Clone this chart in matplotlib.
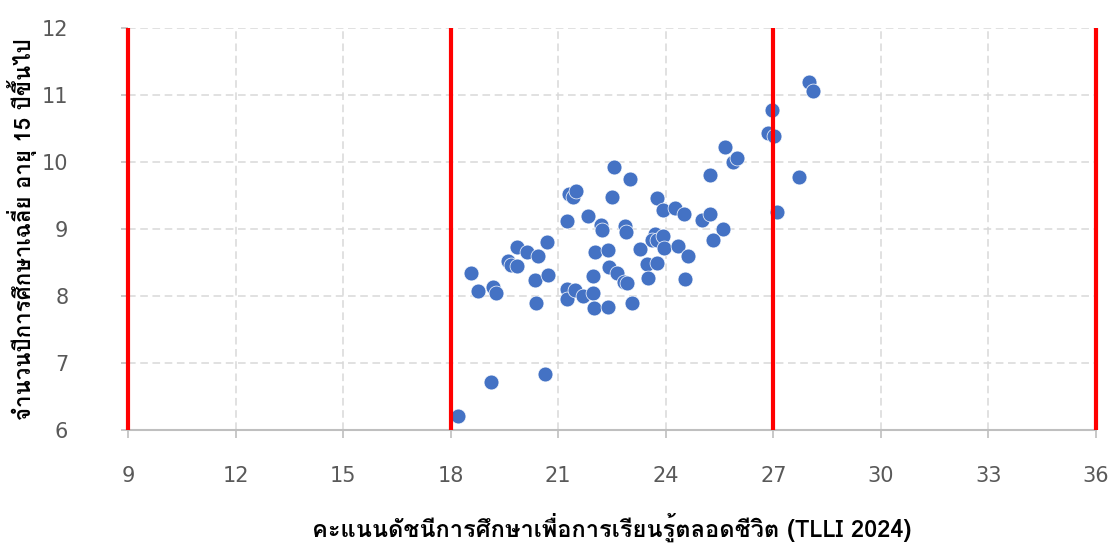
import matplotlib
matplotlib.use("Agg")
import matplotlib.pyplot as plt
from matplotlib import font_manager
from matplotlib.ft2font import FT2Font

# TLLI 2024 score vs mean years of schooling (age 15+)
tlli = [18.21, 19.12, 20.64, 18.57, 18.75, 19.19, 19.26, 19.61, 19.68, 19.84,
        19.84, 20.14, 20.44, 20.70, 20.34, 20.72, 20.38, 21.24, 21.30, 21.40,
        21.49, 21.24, 21.24, 21.46, 21.70, 21.98, 21.99, 22.39, 21.98, 21.82,
        22.18, 22.21, 22.03, 22.40, 22.56, 23.00, 22.49, 22.86, 22.88, 22.42,
        22.63, 22.84, 22.91, 23.07, 23.27, 23.47, 23.76, 23.51, 23.70, 23.61,
        23.76, 23.93, 23.95, 23.75, 23.92, 24.26, 24.52, 24.35, 24.63, 24.54,
        25.01, 25.23, 25.60, 25.33, 25.23, 25.65, 25.87, 26.00, 26.86, 27.03,
        26.95, 28.00, 28.10, 27.72, 27.09]
years = [6.21, 6.72, 6.84, 8.35, 8.07, 8.14, 8.04, 8.52, 8.46, 8.45,
         8.73, 8.65, 8.59, 8.80, 8.24, 8.31, 7.89, 9.12, 9.52, 9.48,
         9.57, 8.10, 7.95, 8.09, 8.00, 8.05, 7.82, 7.83, 8.30, 9.19,
         9.06, 8.99, 8.65, 8.69, 9.92, 9.75, 9.48, 9.04, 8.96, 8.44,
         8.34, 8.21, 8.19, 7.89, 8.70, 8.48, 8.50, 8.27, 8.93, 8.83,
         8.84, 8.89, 8.72, 9.46, 9.29, 9.32, 9.22, 8.74, 8.60, 8.26,
         9.13, 9.23, 9.00, 8.84, 9.81, 10.22, 10.00, 10.06, 10.44, 10.39,
         10.78, 11.19, 11.06, 9.77, 9.25]

x_ticks = [9, 12, 15, 18, 21, 24, 27, 30, 33, 36]
y_ticks = [6, 7, 8, 9, 10, 11, 12]
red_lines = [9, 18, 27, 36]

x_title = "คะแนนดัชนีการศึกษาเพื่อการเรียนรู้ตลอดชีวิต (TLLI 2024)"
y_title = "จำนวนปีการศึกษาเฉลี่ย อายุ 15 ปีขึ้นไป"


def find_thai_font():
    # look for any installed font that has Thai glyphs
    for f in font_manager.fontManager.ttflist:
        try:
            cmap = FT2Font(f.fname).get_charmap()
        except Exception:
            continue
        if 0x0E01 in cmap:
            return f.name
    return None


thai = find_thai_font()
fam = [thai, "DejaVu Sans"] if thai else ["DejaVu Sans"]

fig = plt.figure(figsize=(11.12, 5.47), dpi=100)
ax = fig.add_axes([128 / 1112, 1 - 430 / 547, 968 / 1112, 402 / 547])

ax.scatter(tlli, years, s=115, color="#4472C4", edgecolors="white",
           linewidths=0.5, zorder=3)
ax.vlines(red_lines, 6, 12, color="#FF0000", lw=3, zorder=4, clip_on=False)

ax.set_xlim(9, 36)
ax.set_ylim(6, 12)
ax.set_xticks(x_ticks)
ax.set_yticks(y_ticks)

ax.grid(True, color="#D9D9D9", lw=1.1, linestyle=(0, (5, 3)), zorder=0)
ax.set_axisbelow(True)

for s in ["top", "right", "left"]:
    ax.spines[s].set_visible(False)
ax.spines["bottom"].set_color("#BFBFBF")
ax.spines["bottom"].set_linewidth(1.5)

ax.tick_params(axis="x", direction="out", length=6, width=1.2, color="#BFBFBF",
               pad=20, labelsize=15, labelcolor="#595959")
ax.tick_params(axis="y", direction="out", length=5, width=1.2, color="#BFBFBF",
               pad=38, labelsize=15, labelcolor="#595959")

fig.text(0.5 * (128 + 1096) / 1112, 1 - 527 / 547, x_title, ha="center",
         va="center", fontsize=17, fontweight="bold", family=fam)
fig.text(22 / 1112, 1 - 229 / 547, y_title, ha="center", va="center",
         rotation=90, fontsize=16, fontweight="bold", family=fam)

fig.savefig("out.png", dpi=100)
